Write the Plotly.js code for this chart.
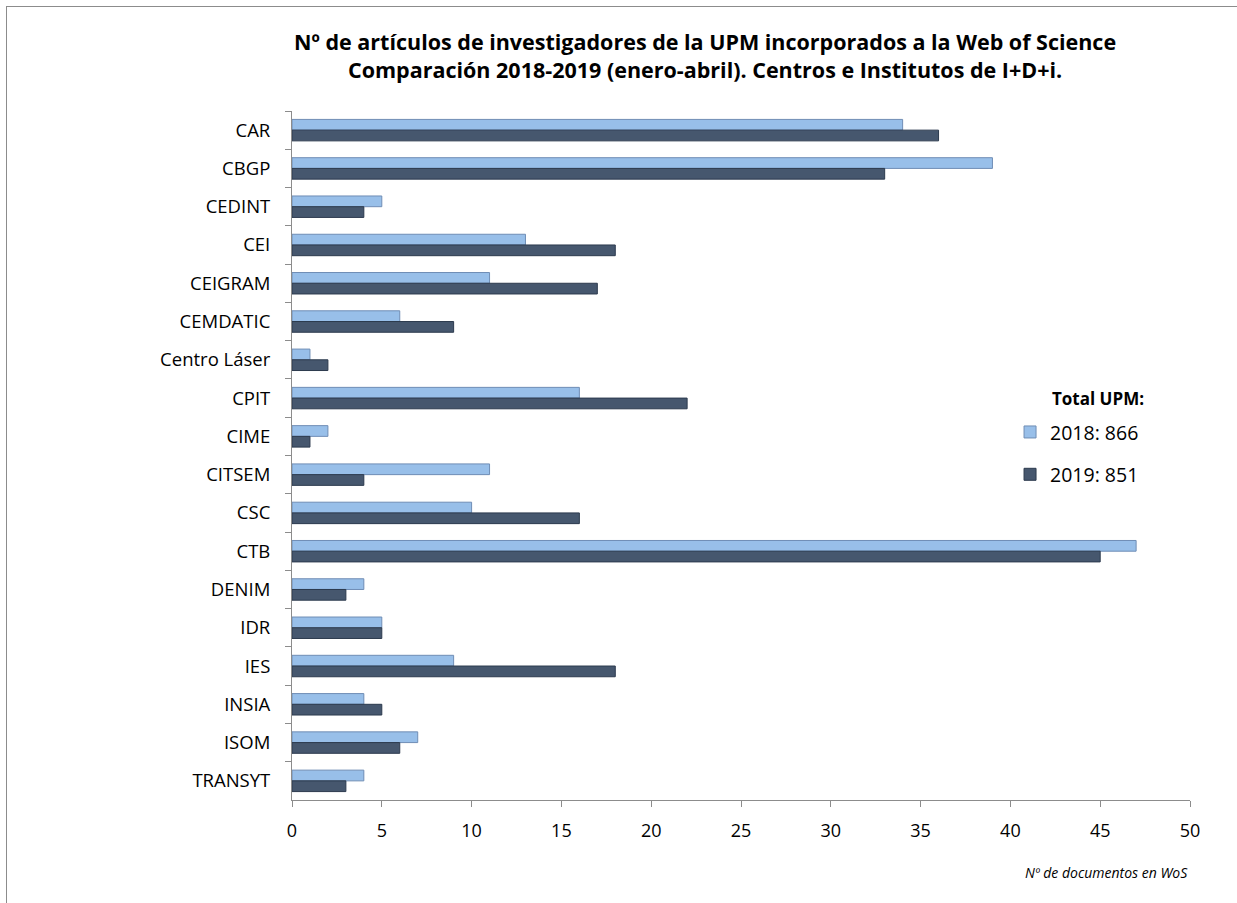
<!DOCTYPE html>
<html>
<head>
<meta charset="utf-8">
<script src="https://cdn.plot.ly/plotly-3.0.1.min.js"></script>
<style>
html,body{margin:0;padding:0;background:#fff;}
#frame{position:absolute;left:6px;top:6px;width:1240px;height:905px;border-left:1px solid #8c8c8c;border-top:1px solid #8c8c8c;}
#chart{position:absolute;left:0;top:0;width:1237px;height:903px;}
</style>
</head>
<body>
<div id="frame"></div>
<div id="chart"></div>
<script>
const categories = ["CAR","CBGP","CEDINT","CEI","CEIGRAM","CEMDATIC","Centro Láser","CPIT","CIME","CITSEM","CSC","CTB","DENIM","IDR","IES","INSIA","ISOM","TRANSYT"];
const values2018 = [34,39,5,13,11,6,1,16,2,11,10,47,4,5,9,4,7,4];
const values2019 = [36,33,4,18,17,9,2,22,1,4,16,45,3,5,18,5,6,3];
const seriesNames = ["2018: 866","2019: 851"];
const xTicks = [0,5,10,15,20,25,30,35,40,45,50];
const titleLines = ["Nº de artículos de investigadores de la UPM incorporados a la Web of Science",
                    "Comparación 2018-2019 (enero-abril). Centros e Institutos de I+D+i."];
const legendTitle = "Total UPM:";
const xTitle = "Nº de documentos en WoS";

const font = "'Open Sans', Calibri, 'Liberation Sans', sans-serif";

const traces = [
  {type:'bar', orientation:'h', y:categories, x:values2018, name:seriesNames[0],
   legendgroup:'a',
   marker:{color:'#98bfe9', line:{color:'#6f8db5', width:1}}},
  {type:'bar', orientation:'h', y:categories, x:values2019, name:seriesNames[1],
   legendgroup:'b',
   marker:{color:'#46576e', line:{color:'#2c3a4e', width:1}}}
];

const layout = {
  width:1237, height:903,
  margin:{l:292, r:47, t:111, b:103},
  paper_bgcolor:'rgba(0,0,0,0)', plot_bgcolor:'rgba(0,0,0,0)',
  barmode:'group', bargap:0.44, bargroupgap:0,
  font:{family:font, size:16, color:'#000'},
  xaxis:{range:[0,50], tickvals:xTicks, showgrid:false, zeroline:false,
         showline:true, linecolor:'#8c8c8c', linewidth:1,
         ticks:'outside', ticklen:6, tickcolor:'#8c8c8c',
         ticklabelstandoff:8,
         tickfont:{family:font, size:18}, fixedrange:true},
  yaxis:{autorange:'reversed', type:'category', showgrid:false, zeroline:false,
         showline:true, linecolor:'#8c8c8c', linewidth:1,
         ticks:'outside', ticklen:6, tickcolor:'#8c8c8c', tickson:'boundaries',
         ticklabelstandoff:17,
         tickfont:{family:font, size:18.5}},
  showlegend:true,
  legend:{x:0.7996, xanchor:'left', y:0.562, yanchor:'top',
          font:{family:font, size:19.5}, tracegroupgap:14, itemwidth:30,
          bgcolor:'rgba(0,0,0,0)'},
  annotations:[
    {text:'<b>'+titleLines[0]+'<br>'+titleLines[1]+'</b>', xref:'paper', yref:'paper',
     x:(705-292)/898, y:1+(111-56)/689, align:'center',
     xanchor:'center', yanchor:'middle', showarrow:false, font:{family:font, size:21.5}},
    {text:'<b>'+legendTitle+'</b>', xref:'paper', yref:'paper', x:(1050-292)/898, y:1-(398-111)/689,
     xanchor:'left', yanchor:'middle', showarrow:false, font:{family:font, size:17}},
    {text:'<i>'+xTitle+'</i>', xref:'paper', yref:'paper', x:1, y:-(872-800)/689,
     xanchor:'right', yanchor:'middle', showarrow:false, font:{family:font, size:14}}
  ]
};

Plotly.newPlot('chart', traces, layout, {displayModeBar:false, staticPlot:true});
</script>
</body>
</html>
